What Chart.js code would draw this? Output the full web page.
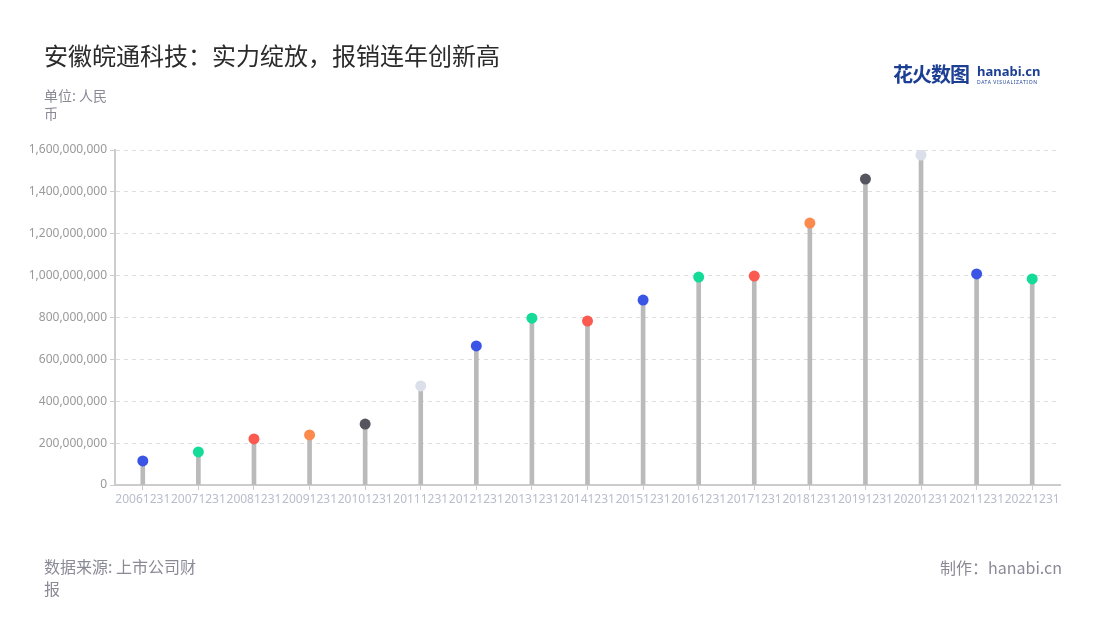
<!DOCTYPE html>
<html>
<head>
<meta charset="utf-8">
<script src="https://cdn.jsdelivr.net/npm/chart.js@4"></script>
<style>
    body { margin: 0; background: #fff; font-family: "Noto Sans CJK SC", "Noto Sans", sans-serif; }
    #wrap { position: relative; width: 1100px; height: 620px; overflow: hidden; }
    canvas { position: absolute; left: 0; top: 0; }
    .txt { position: absolute; white-space: nowrap; }
    #title { left: 44px; top: 37px; font-size: 24px; color: #2b2b2b; }
    #unit { left: 44px; top: 86px; font-size: 14px; color: #8a8a96; line-height: 18px; white-space: normal; width: 66px; }
    #source { left: 44px; top: 555px; font-size: 16px; color: #8a8a96; line-height: 22px; white-space: normal; width: 160px; }
    #maker { right: 38px; top: 555px; font-size: 16px; color: #8a8a96; }
    #logo { left: 893px; top: 59px; }
    #logo .cn { font-size: 20px; font-weight: bold; color: #1c3f94; letter-spacing: -1px; }
    #logo .en { position: absolute; left: 84px; top: 3px; font-family: "Noto Sans", sans-serif; font-weight: bold; font-size: 13px; color: #1c3f94; }
    #logo .sub { position: absolute; left: 84px; top: 20px; font-family: "Noto Sans", sans-serif; font-size: 5px; color: #1c3f94; letter-spacing: 0.6px; }
</style>
</head>
<body>
<div id="wrap">
    <canvas id="c" width="1100" height="620"></canvas>
    <div class="txt" id="title">安徽皖通科技：实力绽放，报销连年创新高</div>
    <div class="txt" id="unit">单位: 人民币</div>
    <div class="txt" id="logo"><span class="cn">花火数图</span><span class="en">hanabi.cn</span><span class="sub">DATA VISUALIZATION</span></div>
    <div class="txt" id="source">数据来源: 上市公司财报</div>
    <div class="txt" id="maker">制作：hanabi.cn</div>
</div>
<script>
// Data
const years = ["20061231", "20071231", "20081231", "20091231", "20101231", "20111231", "20121231", "20131231", "20141231",
    "20151231", "20161231", "20171231", "20181231", "20191231", "20201231", "20211231", "20221231"];
const values = [115000000, 158000000, 220000000, 239000000, 291000000, 473000000, 664000000, 797000000, 783000000,
    883000000, 993000000, 998000000, 1251000000, 1461000000, 1576000000, 1008000000, 984000000];
const dotColors = ["#3a55e6", "#14dc98", "#fa5a50", "#fb8a4c", "#55555f", "#dadfe9", "#3a55e6", "#14dc98", "#fa5a50",
    "#3a55e6", "#14dc98", "#fa5a50", "#fb8a4c", "#55555f", "#dadfe9", "#3a55e6", "#14dc98"];
const yTicks = [0, 200000000, 400000000, 600000000, 800000000, 1000000000, 1200000000, 1400000000, 1600000000];

const ctx = document.getElementById("c").getContext("2d");
new Chart(ctx, {
    data: {
        labels: years,
        datasets: [
            {
                type: "scatter",
                data: values.map((v, i) => ({ x: years[i], y: v })),
                pointRadius: 5.5,
                pointHoverRadius: 5.5,
                pointBackgroundColor: dotColors,
                pointBorderWidth: 0,
                order: 0
            },
            {
                type: "bar",
                data: values,
                backgroundColor: "#bababa",
                barThickness: 4,
                order: 1
            }
        ]
    },
    options: {
        responsive: false,
        animation: false,
        layout: { padding: { top: 150, right: 40, bottom: 105, left: 0 } },
        plugins: { legend: { display: false }, tooltip: { enabled: false } },
        scales: {
            x: {
                type: "category",
                offset: true,
                grid: { display: true, drawOnChartArea: false, offset: false, tickLength: 5, color: "#cccccc" },
                border: { color: "#cccccc", width: 2 },
                ticks: { autoSkip: false, maxRotation: 0, padding: 2, color: "#b9bccb", font: { family: "Noto Sans", size: 12 } },
                afterFit: (s) => { s.height = 30; }
            },
            y: {
                min: 0,
                max: 1600000000,
                afterBuildTicks: (s) => { s.ticks = yTicks.map(v => ({ value: v })); },
                grid: { color: "#dddddd", tickLength: 5, tickColor: "#cccccc" },
                border: { color: "#cccccc", width: 2, dash: [4, 4] },
                ticks: {
                    padding: 3, color: "#999999", font: { family: "Noto Sans", size: 12 },
                    callback: (v) => v.toLocaleString("en-US")
                },
                afterFit: (s) => { s.width = 115; }
            }
        }
    }
});
</script>
</body>
</html>
